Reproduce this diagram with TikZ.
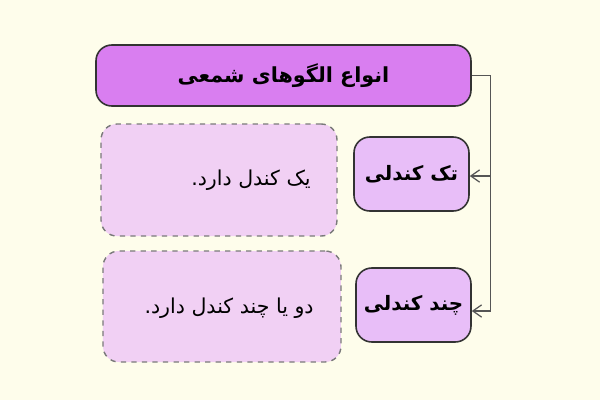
\documentclass[tikz,border=0pt]{standalone}
\usepackage{fontspec}
\usetikzlibrary{arrows.meta}
\TeXXeTstate=1
\newfontfamily\arabicfont[Script=Arabic]{DejaVu Sans}
\definecolor{bgcol}{HTML}{FEFDEB}
\definecolor{titlecol}{HTML}{D97EF0}
\definecolor{catcol}{HTML}{E8BEF8}
\definecolor{desccol}{HTML}{F1D0F4}
\definecolor{edgecol}{HTML}{333333}
\definecolor{linecol}{HTML}{555555}
\definecolor{dashcol}{HTML}{7A7A7A}
\tikzset{
  titlebox/.style={draw=edgecol, line width=0.9pt, fill=titlecol, rounded corners=9pt, minimum width=375*0.02cm, minimum height=61*0.02cm, inner sep=0pt, font=\arabicfont\bfseries\fontsize{11.8}{14}\selectfont},
  catbox/.style={draw=edgecol, line width=0.9pt, fill=catcol, rounded corners=9pt, minimum width=115*0.02cm, minimum height=74*0.02cm, inner sep=0pt, font=\arabicfont\bfseries\fontsize{11.3}{14}\selectfont},
  descbox/.style={draw=dashcol, dashed, line width=0.8pt, fill=desccol, rounded corners=9pt, inner sep=0pt},
  desctext/.style={inner sep=0pt, anchor=east, font=\arabicfont\fontsize{11.7}{14}\selectfont},
  conn/.style={draw=linecol, line width=0.7pt, -{Straight Barb[length=5pt,width=7pt]}}
}
\begin{document}
\begin{tikzpicture}[x=0.02cm,y=-0.02cm]
\fill[bgcol] (0,0) rectangle (600,400);
\useasboundingbox (0,0) rectangle (600,400);
\node[titlebox] (title) at (283.5,75.5) {\beginR انواع الگوهای شمعی\endR};
\node[catbox] (tak) at (411.5,174) {\beginR تک کندلی\endR};
\node[catbox] (chand) at (413.5,305) {\beginR چند کندلی\endR};
\node[descbox, minimum width=236*0.02cm, minimum height=112*0.02cm] (d1) at (219,180) {};
\node[descbox, minimum width=238*0.02cm, minimum height=111*0.02cm] (d2) at (222,306.5) {};
\node[desctext] (t1) at (311,180) {\beginR یک کندل دارد.\endR};
\node[desctext] (t2) at (314,308) {\beginR دو یا چند کندل دارد.\endR};
\draw[conn] (title.east) -- ++(19,0) |- ([yshift=-0.12cm]chand.east);
\draw[conn] ([yshift=-0.04cm]tak.east) ++(21,0) -- ([yshift=-0.04cm]tak.east);
\end{tikzpicture}
\end{document}
